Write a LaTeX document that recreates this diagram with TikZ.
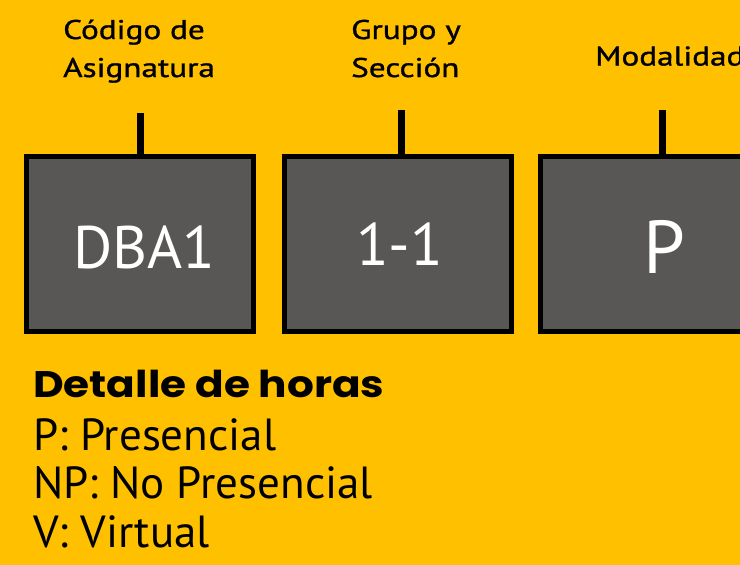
\documentclass[tikz,border=0pt]{standalone}
\usepackage{fontspec}
\setmainfont{PT Sans}
\newfontfamily\lblfont{PT Sans}[FakeStretch=1.23,FakeBold=1.2]
\newfontfamily\headfont{Poppins Bold}[FakeStretch=1.14]
\definecolor{bgyellow}{HTML}{FFC000}
\definecolor{boxgray}{HTML}{585756}
\begin{document}
\begin{tikzpicture}[x=1pt,y=-1pt,
  codebox/.style={draw=black,line width=5pt,fill=boxgray,minimum width=227pt,minimum height=175pt,inner sep=0pt},
  boxtext/.style={text=white,font=\fontsize{60}{60}\selectfont,inner sep=0pt,anchor=base},
  lbl/.style={font=\lblfont\fontsize{27}{30}\selectfont,inner sep=0pt,anchor=base west},
  stem/.style={line width=7pt,draw=black},
  legend/.style={font=\fontsize{45}{48}\selectfont,inner sep=0pt,anchor=base west}]
\fill[bgyellow] (0,0) rectangle (740,565);
\useasboundingbox (0,0) rectangle (740,565);
% boxes
\node[codebox] (b1) at (140,244) {};
\node[codebox] (b2) at (397.5,244) {};
\node[codebox] (b3) at (654,244) {};
% box texts
\node[boxtext] (t1) at (144.5,268) {DBA1};
\node[boxtext] (t2) at (399.5,265) {1-1};
\node[boxtext,font=\fontsize{75}{75}\selectfont] (t3) at (664,273) {P};
% labels
\node[lbl] (l1) at (63,39) {Código de};
\node[lbl] (l1b) at (63,77) {Asignatura};
\node[lbl] (l2) at (351,39) {Grupo y};
\node[lbl] (l2b) at (351,77) {Sección};
\node[lbl] (l3) at (595,65.5) {Modalidad};
% stems
\coordinate (s1) at (140,113);
\coordinate (s2) at (401.5,110);
\coordinate (s3) at (662,110);
\draw[stem] (s1) -- (s1 |- b1.north);
\draw[stem] (s2) -- (s2 |- b2.north);
\draw[stem] (s3) -- (s3 |- b3.north);
% legend
\node[legend,font=\headfont\fontsize{37}{40}\selectfont] (h) at (33,397) {Detalle de horas};
\node[legend] (p) at (33,450) {P: Presencial};
\node[legend] (np) at (33,498) {NP: No Presencial};
\node[legend] (v) at (33,547) {V: Virtual};
\end{tikzpicture}
\end{document}
